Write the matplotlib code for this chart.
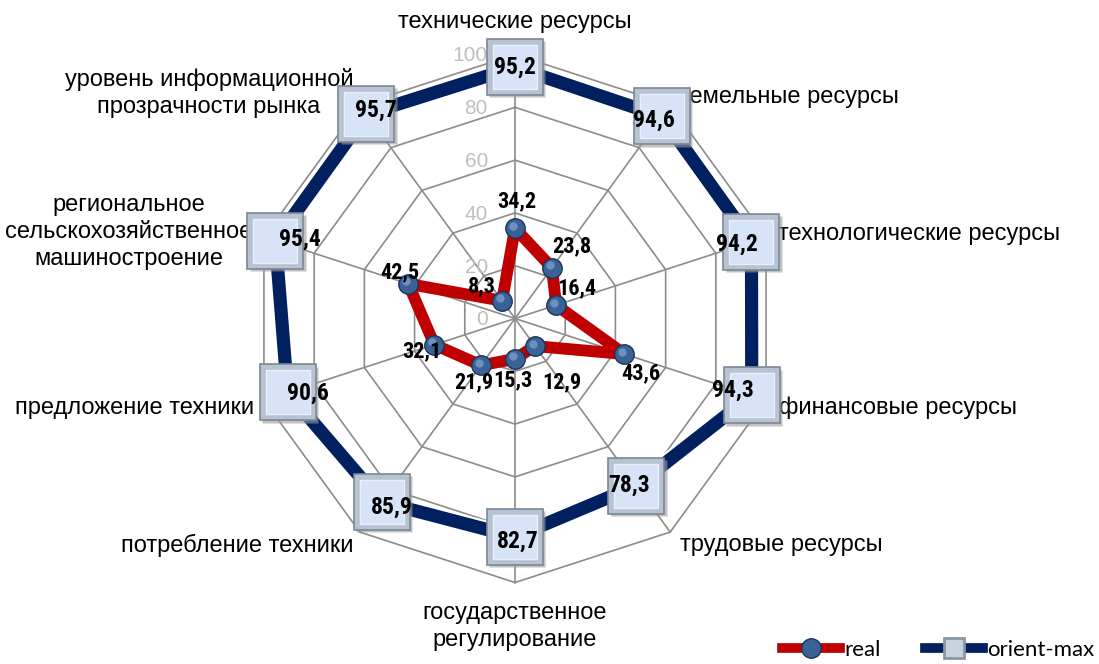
import numpy as np
import matplotlib
matplotlib.use("Agg")
import matplotlib.pyplot as plt
import matplotlib.patheffects as pe
from matplotlib import font_manager as fm
from matplotlib.lines import Line2D
from matplotlib import transforms as mtrans

# ---------------- data ----------------
categories = ["технические ресурсы", "земельные ресурсы", "технологические ресурсы",
              "финансовые ресурсы", "трудовые ресурсы", "государственное\nрегулирование",
              "потребление техники", "предложение техники",
              "региональное\nсельскохозяйственное\nмашиностроение",
              "уровень информационной\nпрозрачности рынка"]
real = [34.2, 23.8, 16.4, 43.6, 12.9, 15.3, 21.9, 32.1, 42.5, 8.3]
orient_max = [95.2, 94.6, 94.2, 94.3, 78.3, 82.7, 85.9, 90.6, 95.4, 95.7]
grid_values = [0, 20, 40, 60, 80, 100]
series_names = ["real", "orient-max"]

# ---------------- fonts ----------------
names = {f.name for f in fm.fontManager.ttflist}
num_font = next((f for f in ["Liberation Sans Narrow", "DejaVu Sans Condensed",
                             "Roboto Condensed", "Liberation Sans"] if f in names), "DejaVu Sans")
cat_font = "Liberation Sans" if "Liberation Sans" in names else "DejaVu Sans"
leg_font = "Lato" if "Lato" in names else "DejaVu Sans"

# ---------------- style ----------------
RED = "#C00000"
NAVY = "#002060"
GRID = "#8C8C8C"

fig = plt.figure(figsize=(10.99, 6.64), dpi=100)
ax = fig.add_axes([0.2284, 0.1227, 0.4804, 0.7952], projection="polar")
ax.set_theta_offset(np.pi / 2)
ax.set_theta_direction(-1)
ax.set_ylim(0, 100)
ax.grid(False)
ax.set_xticks([])
ax.set_yticks([])
ax.spines["polar"].set_visible(False)
ax.patch.set_alpha(0)

n = len(categories)
theta = np.linspace(0, 2 * np.pi, n, endpoint=False)
theta_c = np.append(theta, theta[0])

# polygon grid
for g in grid_values[1:]:
    ax.plot(theta_c, [g] * (n + 1), color=GRID, lw=1.2, zorder=1, clip_on=False)
for t in theta:
    ax.plot([t, t], [0, 100], color=GRID, lw=1.2, zorder=1, clip_on=False)

# radial labels
for g in grid_values:
    ax.annotate(str(g), xy=(0, g), xytext=(-19.5, -1.0), textcoords="offset points",
                ha="right", va="center", fontsize=15, color="#BFBFBF",
                family=cat_font, zorder=2)

# orient-max line
mx_c = np.append(orient_max, orient_max[0])
ax.plot(theta_c, mx_c, color=NAVY, lw=9.5, zorder=3, clip_on=False, solid_joinstyle="miter",
        path_effects=[pe.Stroke(linewidth=12.5, foreground="white"), pe.Normal()])

# real line
re_c = np.append(real, real[0])
ax.plot(theta_c, re_c, color=RED, lw=8.5, zorder=4, clip_on=False, solid_joinstyle="round")

# box markers for orient-max
shadow = mtrans.offset_copy(ax.transData, fig=fig, x=1.5, y=-1.5, units="points")
ax.plot(theta, orient_max, ls="none", marker="s", ms=41, mfc="#9A9A9A", mec="none",
        alpha=0.6, transform=shadow, zorder=5, clip_on=False)
ax.plot(theta, orient_max, ls="none", marker="s", ms=40, mfc="#B7C3D2", mec="#7D8794",
        mew=1.2, zorder=6, clip_on=False)
ax.plot(theta, orient_max, ls="none", marker="s", ms=32, mfc="#D7E4F8", mec="#E9F0FA",
        mew=1.0, zorder=7, clip_on=False)

# sphere markers for real
ax.plot(theta, real, ls="none", marker="o", ms=14, mfc="#3B6296", mec="#1C3558",
        mew=1.0, zorder=8, clip_on=False)
hl = mtrans.offset_copy(ax.transData, fig=fig, x=-1.5, y=1.8, units="points")
ax.plot(theta, real, ls="none", marker="o", ms=6, mfc="#8FB0DA", mec="none",
        alpha=0.6, transform=hl, zorder=9, clip_on=False)

def fmt(v):
    return f"{v:.1f}".replace(".", ",")

# value labels (offsets in points)
max_off = [(0, 0), (-5.8, -2.9), (-10.8, -2.2), (-13.7, 3.6), (-5, 0),
           (2.2, -2.9), (7.2, -3.6), (14.4, -0.7), (17.3, 1.4), (6.5, 2.9)]
for t, v, (dx, dy) in zip(theta, orient_max, max_off):
    ax.annotate(fmt(v), xy=(t, v), xytext=(dx, dy), textcoords="offset points",
                ha="center", va="center", fontsize=17, fontweight="bold",
                family=num_font, color="black", zorder=10, annotation_clip=False)

real_off = [(1.4, 19.4), (14.4, 15.1), (15.1, 12.2), (11.5, -13.7), (19.4, -25.9),
            (-1.5, -15.6), (-5.5, -12), (-9.4, -5), (-5.8, 8.6), (-14.4, 10.5)]
for t, v, (dx, dy) in zip(theta, real, real_off):
    ax.annotate(fmt(v), xy=(t, v), xytext=(dx, dy), textcoords="offset points",
                ha="center", va="center", fontsize=16, fontweight="bold",
                family=num_font, color="black", zorder=10, annotation_clip=False)

# category labels
cat_pos = [((0, 23.4), "center"), ((6.3, 5.7), "left"), ((8.6, 2.1), "left"),
           ((9.3, -5.7), "left"), ((7.1, -9.3), "left"), ((0, -32), "center"),
           ((-4.9, -9.3), "right"), ((-7.1, -5.7), "right"), ((-8.1, 3.5), "right"),
           ((-4.7, 8.6), "right")]
for t, lab, ((dx, dy), ha) in zip(theta, categories, cat_pos):
    ax.annotate(lab, xy=(t, 100), xytext=(dx, dy), textcoords="offset points",
                ha=ha, va="center", multialignment="center", fontsize=17,
                linespacing=1.3, family=cat_font, color="black", zorder=0,
                annotation_clip=False)

# legend
h_real = Line2D([], [], color=RED, lw=7, marker="o", ms=14, mfc="#3B6296", mec="#1C3558")
h_max = Line2D([], [], color=NAVY, lw=7, marker="s", ms=14, mfc="#C9D3DF", mec="#8A96A4", mew=2)
fig.legend([h_real, h_max], series_names, loc="lower right", bbox_to_anchor=(1.0, 0.0),
           ncol=2, frameon=False, handlelength=2.6, handletextpad=0.2, columnspacing=2.0,
           borderpad=0.1, borderaxespad=0.1,
           prop={"family": leg_font, "size": 16})

fig.savefig("out.png", dpi=100, facecolor="white")
